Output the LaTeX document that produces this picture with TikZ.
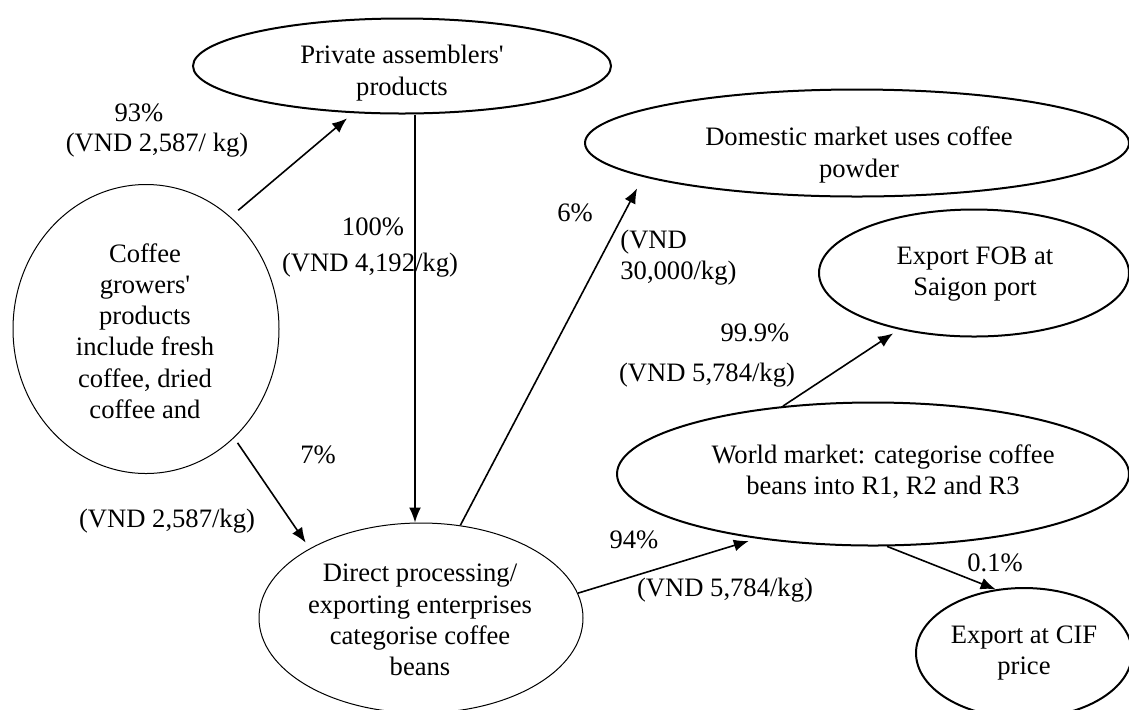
\documentclass[tikz,border=0pt]{standalone}
\usepackage{fontspec}
\setmainfont{Liberation Serif}
\usepackage{tikz}
\usetikzlibrary{arrows.meta,shapes,positioning}
\tikzstyle{bubble} = [ellipse,draw,line width=1pt,inner sep=0pt]
\tikzstyle{thinbubble} = [bubble,line width=0.5pt]
\tikzstyle{txt} = [align=center,inner sep=0pt,font=\fontsize{13.3}{15.6}\selectfont]
\tikzstyle{flow} = [line width=0.8pt,-{Latex[length=7.5pt,width=6pt]}]

\begin{document}
\begin{tikzpicture}[x=0.5pt,y=-0.5pt]
\useasboundingbox (0,0) rectangle (1129,709);

% Ellipses
\node[thinbubble,minimum width=133pt,minimum height=144.5pt] (growers) at (146,329) {};
\node[bubble,minimum width=209pt,minimum height=47.5pt] (private) at (402,66) {};
\node[thinbubble,minimum width=162pt,minimum height=95pt] (direct) at (421,618) {};
\node[bubble,minimum width=272pt,minimum height=53.5pt] (domestic) at (857,143) {};
\node[bubble,minimum width=155pt,minimum height=63.5pt] (fob) at (974,273) {};
\node[bubble,minimum width=256pt,minimum height=71.5pt] (world) at (873,474) {};
\node[bubble,minimum width=108pt,minimum height=65pt] (cif) at (1024,653) {};

% Texts in the ellipses
\node[txt] (growers-txt) at (145,331) {Coffee\\growers\textquotesingle\\products\\include fresh\\coffee, dried\\coffee and};
\node[txt] (private-txt) at (402,73) {Private assemblers\textquotesingle\\products};
\node[txt] (direct-txt) at (420,620) {Direct processing/\\exporting enterprises\\categorise coffee\\beans};
\node[txt] (domestic-txt) at (859,155) {Domestic market uses coffee\\powder};
\node[txt] (fob-txt) at (975,274) {Export FOB at\\Saigon port};
\node[txt] (world-txt) at (883,472) {World market: categorise coffee\\beans into R1, R2 and R3};
\node[txt] (cif-txt) at (1024,653) {Export at CIF\\price};

% Flows
\draw[flow,shorten <=5pt,shorten >=4pt] (growers.53) -- (private.-136);
\draw[flow] ([xshift=6.5pt]private.south) -- ([xshift=6.5pt]private.south |- direct.north);
\draw[flow,shorten <=3pt,shorten >=3.5pt] (growers.-51) -- (direct.148);
\draw[flow,shorten >=6.5pt] (direct.67) -- (domestic.-171);
\draw[flow,shorten >=4pt] (direct.9) -- (world.209);
\draw[flow,shorten >=3.5pt] (world.143) -- (fob.217);
\draw[flow] (world.-79) -- (cif.114);

% Shares and prices
\node[txt] (share-private) at (139,113) {93\%};
\node[txt] (price-private) at (157,145) {(VND 2,587/ kg)};
\node[txt] (share-assembled) at (373,227) {100\%};
\node[txt] (price-assembled) at (370,265) {(VND 4,192/kg)};
\node[txt] (share-direct) at (318,455) {7\%};
\node[txt] (price-direct) at (167,521) {(VND 2,587/kg)};
\node[txt] (share-domestic) at (575,213) {6\%};
\node[txt,anchor=west,align=left] (price-domestic) at (620,258) {(VND\\30,000/kg)};
\node[txt] (share-world) at (634,540) {94\%};
\node[txt] (price-world) at (725,590) {(VND 5,784/kg)};
\node[txt] (share-fob) at (755,333) {99.9\%};
\node[txt] (price-fob) at (707,375) {(VND 5,784/kg)};
\node[txt] (share-cif) at (995,563) {0.1\%};
\end{tikzpicture}
\end{document}
